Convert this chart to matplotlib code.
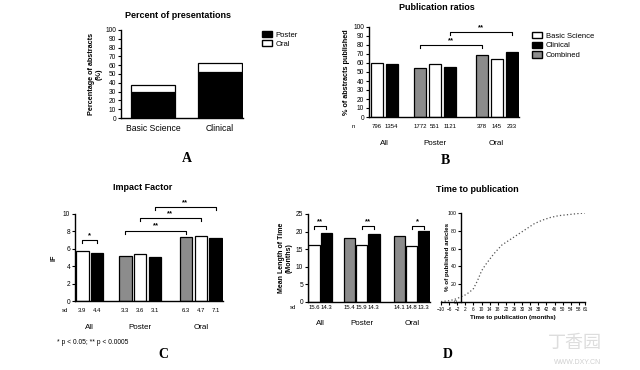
import numpy as np
import matplotlib
matplotlib.use("Agg")
import matplotlib.pyplot as plt
from matplotlib.patches import Patch

plt.rcParams['font.family'] = ['Liberation Sans', 'Noto Sans CJK SC', 'DejaVu Sans']

# ---- data ----
a_groups = ['Basic Science', 'Clinical']
a_poster = [30, 52]
a_oral = [7, 11]

b_values = [60, 59, 54, 59, 56, 69, 64, 72]
b_n = ['796', '1354', '1772', '551', '1121', '378', '145', '233']

c_values = [5.8, 5.5, 5.2, 5.4, 5.1, 7.3, 7.5, 7.2]
c_sd = ['3.9', '4.4', '3.3', '3.6', '3.1', '6.3', '4.7', '7.1']

d_values = [16.2, 19.5, 18.2, 16.2, 19.3, 18.7, 15.9, 20.1]
d_sd = ['15.6', '14.3', '15.4', '15.9', '14.3', '14.1', '14.8', '13.3']

groups = ['All', 'Poster', 'Oral']
bar_kind = ['Basic Science', 'Clinical', 'Combined', 'Basic Science', 'Clinical',
            'Combined', 'Basic Science', 'Clinical']

months = [-10, -8, -6, -4, -2, 0, 2, 4, 6, 8, 10, 12, 14, 16, 18, 20, 22, 24, 26,
          28, 30, 32, 34, 36, 38, 40, 42, 44, 46, 48, 50, 52, 54, 56, 58, 60, 61]
cum_pct = [0.5, 1, 1.5, 2.5, 4, 6, 8, 11, 15, 24, 35, 42, 48, 54, 59, 64, 67, 70, 73,
           76, 79, 82, 85, 88, 90, 92, 93.5, 95, 96, 97, 97.5, 98, 98.5, 99, 99.5, 99.8, 100]

# ---- layout ----
W, H = 640, 370
fig = plt.figure(figsize=(W / 100, H / 100), dpi=100)

kind_color = {'Basic Science': 'white', 'Clinical': 'black', 'Combined': '#8c8c8c'}
pos = [0.5, 1.5, 3.4, 4.4, 5.4, 7.5, 8.5, 9.5]
group_x = [1.0, 4.4, 8.5]


def px_axes(x0, y0, x1, y1):
    return fig.add_axes([x0 / W, 1 - y1 / H, (x1 - x0) / W, (y1 - y0) / H])


def style(ax):
    for s in ['top', 'right']:
        ax.spines[s].set_visible(False)
    for s in ['left', 'bottom']:
        ax.spines[s].set_linewidth(1.0)
    ax.tick_params(length=2.5, width=0.8, labelsize=4.8, pad=1)


def bracket(ax, i, j, y, h, txt):
    x1, x2 = pos[i], pos[j]
    ax.plot([x1, x1, x2, x2], [y - h, y, y, y - h], color='black', lw=0.8, clip_on=False)
    ax.text((x1 + x2) / 2, y + h * 0.4, txt, ha='center', va='bottom', fontsize=5.5, fontweight='bold')


def grouped(ax, vals, width, labels, row_name, row_y, grp_y, name_x):
    colors = [kind_color[k] for k in bar_kind]
    ax.bar(pos, vals, width=width, color=colors, edgecolor='black', linewidth=0.9)
    ax.set_xlim(0, 10)
    ax.set_xticks([])
    trans = ax.get_xaxis_transform()
    for p, t in zip(pos, labels):
        ax.text(p, row_y, t, transform=trans, ha='center', va='center', fontsize=4.3)
    ax.text(name_x, row_y, row_name, transform=ax.transAxes, ha='center', va='center', fontsize=4.3)
    for gx, g in zip(group_x, groups):
        ax.text(gx, grp_y, g, transform=trans, ha='center', va='center', fontsize=5.8)


# Panel A
axA = px_axes(121, 30, 243, 118)
style(axA)
xa = np.arange(len(a_groups))
axA.bar(xa, a_poster, width=0.66, color='black', edgecolor='black', linewidth=0.9)
axA.bar(xa, a_oral, bottom=a_poster, width=0.66, color='white', edgecolor='black', linewidth=0.9)
axA.set_xlim(-0.48, 1.35)
axA.set_ylim(0, 100)
axA.set_yticks(range(0, 101, 10))
axA.set_xticks(xa)
axA.set_xticklabels(a_groups, fontsize=6.2)
axA.tick_params(axis='x', length=0, pad=4)
axA.set_ylabel('Percentage of abstracts\n(%)', fontsize=5.2, fontweight='bold', labelpad=2, linespacing=1.1)
fig.text(178 / W, 1 - 15 / H, 'Percent of presentations', ha='center', va='center', fontsize=6.5, fontweight='bold')
fig.legend(handles=[Patch(facecolor='black', edgecolor='black'), Patch(facecolor='white', edgecolor='black')],
           labels=['Poster', 'Oral'], loc='upper left', bbox_to_anchor=(258 / W, 1 - 27 / H),
           frameon=False, fontsize=5.5, handlelength=1.3, handleheight=0.9, handletextpad=0.5,
           labelspacing=0.2, borderpad=0)

# Panel B
axB = px_axes(369, 27, 519, 117)
style(axB)
grouped(axB, b_values, 0.8, b_n, 'n', -0.1, -0.29, -0.107)
axB.set_ylim(0, 100)
axB.set_yticks(range(0, 101, 10))
axB.set_ylabel('% of abstracts published', fontsize=5.2, fontweight='bold', labelpad=2)
bracket(axB, 2, 5, 80, 3, '**')
bracket(axB, 4, 7, 94, 3, '**')
fig.text(437 / W, 1 - 7 / H, 'Publication ratios', ha='center', va='center', fontsize=6.5, fontweight='bold')
fig.legend(handles=[Patch(facecolor=kind_color[k], edgecolor='black') for k in ['Basic Science', 'Clinical', 'Combined']],
           labels=['Basic Science', 'Clinical', 'Combined'], loc='upper left', bbox_to_anchor=(528 / W, 1 - 28 / H),
           frameon=False, fontsize=5.5, handlelength=1.3, handleheight=0.9, handletextpad=0.5,
           labelspacing=0.25, borderpad=0)

# Panel C
axC = px_axes(75, 214, 223, 301)
style(axC)
grouped(axC, c_values, 0.85, c_sd, 'sd', -0.11, -0.30, -0.07)
axC.set_ylim(0, 10)
axC.set_yticks(range(0, 11, 2))
axC.set_ylabel('IF', fontsize=5.2, fontweight='bold', labelpad=4)
bracket(axC, 0, 1, 7.0, 0.35, '*')
bracket(axC, 2, 5, 8.1, 0.35, '**')
bracket(axC, 3, 6, 9.5, 0.35, '**')
bracket(axC, 4, 7, 10.8, 0.35, '**')
fig.text(143 / W, 1 - 188 / H, 'Impact Factor', ha='center', va='center', fontsize=6.5, fontweight='bold')
fig.text(57 / W, 1 - 343 / H, '* p < 0.05; ** p < 0.0005', ha='left', va='center', fontsize=4.8)

# Panel D (bars)
axD = px_axes(308, 214, 430, 302)
style(axD)
grouped(axD, d_values, 0.95, d_sd, 'sd', -0.065, -0.24, -0.12)
axD.set_ylim(0, 25)
axD.set_yticks(range(0, 26, 5))
axD.set_ylabel('Mean Length of Time\n(Months)', fontsize=5, fontweight='bold', labelpad=2, linespacing=1.1)
bracket(axD, 0, 1, 21.5, 0.8, '**')
bracket(axD, 3, 4, 21.5, 0.8, '**')
bracket(axD, 6, 7, 21.5, 0.8, '*')
fig.text(477 / W, 1 - 190 / H, 'Time to publication', ha='center', va='center', fontsize=6.5, fontweight='bold')

# Panel D (cumulative)
axE = px_axes(441, 213, 585, 302)
style(axE)
axE.spines['left'].set_position(('data', 0))
axE.plot(months, cum_pct, color='#555555', lw=0.9, ls=(0, (1, 1.8)))
axE.set_xlim(-10, 61)
axE.set_ylim(0, 100)
axE.set_yticks(range(0, 101, 20))
axE.set_xticks(list(range(-10, 59, 4)) + [61])
axE.tick_params(axis='x', labelsize=3.4)
axE.tick_params(axis='y', labelsize=3.8)
axE.set_xlabel('Time to publication (months)', fontsize=4.5, fontweight='bold', labelpad=2)
fig.text(447 / W, 1 - 257 / H, '% of published articles', rotation=90, ha='center', va='center',
         fontsize=4.5, fontweight='bold')

# panel letters
for x, y, t in [(187, 158, 'A'), (445, 160, 'B'), (163, 354, 'C'), (448, 354, 'D')]:
    fig.text(x / W, 1 - y / H, t, ha='center', va='center', fontsize=10, fontweight='bold', family='Liberation Serif')

# watermark
fig.text(575 / W, 1 - 343 / H, '丁香园', ha='center', va='center', fontsize=13, color='#dddddd',
         family=['Noto Sans CJK SC', 'DejaVu Sans'])
fig.text(578 / W, 1 - 362 / H, 'WWW.DXY.CN', ha='center', va='center', fontsize=5, color='#d0d0d0')

fig.savefig('out.png', dpi=100)
